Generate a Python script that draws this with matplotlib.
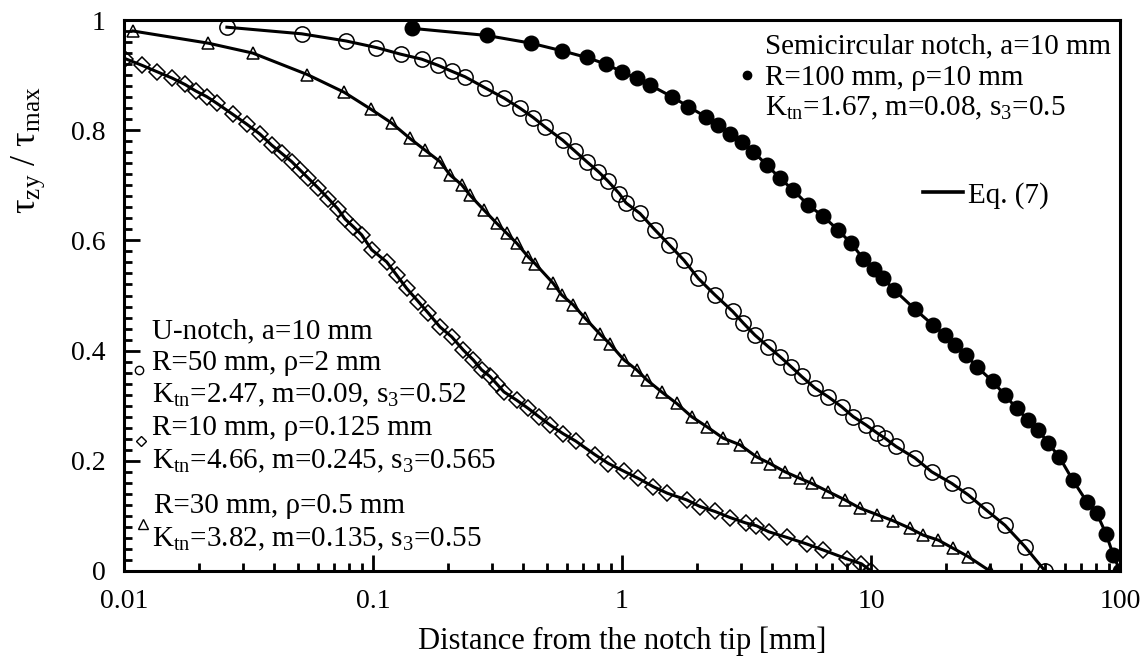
"""Shear stress distribution ahead of U- and semicircular notches."""

import matplotlib.pyplot as plt
from matplotlib.ticker import FixedLocator, FuncFormatter, LogLocator, NullFormatter

plt.rcParams["font.family"] = ["Liberation Serif", "DejaVu Serif"]
plt.rcParams["mathtext.default"] = "regular"

# R=100 mm, rho=10 mm (semicircular notch, filled circles)
x100 = [0.143, 0.286, 0.431, 0.576, 0.722, 0.862, 1.0, 1.146, 1.296, 1.583, 1.846,
        2.175, 2.436, 2.715, 3.025, 3.368, 3.812, 4.311, 4.875, 5.601, 6.416, 7.37,
        8.31, 9.31, 10.28, 11.2, 12.41, 15.02, 17.79, 19.83, 21.75, 24.07, 26.58,
        30.82, 34.53, 38.47, 42.82, 46.97, 51.52, 57.04, 64.6, 73.5, 80.6, 87.8, 94.0, 100]
y100 = [0.985, 0.972, 0.958, 0.944, 0.932, 0.920, 0.906, 0.894, 0.882, 0.861, 0.843,
        0.824, 0.809, 0.794, 0.779, 0.761, 0.737, 0.713, 0.691, 0.664, 0.644, 0.619,
        0.595, 0.567, 0.549, 0.531, 0.510, 0.475, 0.446, 0.428, 0.410, 0.392, 0.371,
        0.344, 0.319, 0.295, 0.274, 0.256, 0.232, 0.207, 0.165, 0.126, 0.105, 0.068, 0.029, 0.0]

# R=50 mm, rho=2 mm (open circles)
x50 = [0.0259, 0.0517, 0.0779, 0.1033, 0.1292, 0.1569, 0.1819, 0.2071, 0.2342, 0.2818,
       0.3368, 0.3895, 0.4403, 0.4907, 0.5778, 0.6475, 0.7216, 0.8031, 0.881, 0.9754,
       1.038, 1.181, 1.357, 1.549, 1.774, 2.025, 2.363, 2.784, 3.07, 3.421, 3.87, 4.311,
       4.771, 5.268, 5.958, 6.738, 7.627, 8.489, 9.548, 10.62, 11.38, 12.6, 15.02, 17.53,
       21.1, 24.59, 28.96, 34.53, 41.55, 50.0]
y50 = [0.987, 0.975, 0.962, 0.950, 0.938, 0.929, 0.918, 0.907, 0.897, 0.877,
       0.858, 0.840, 0.823, 0.806, 0.782, 0.762, 0.743, 0.725, 0.707, 0.685,
       0.668, 0.649, 0.619, 0.592, 0.564, 0.531, 0.501, 0.471, 0.450, 0.428, 0.407, 0.389,
       0.371, 0.353, 0.332, 0.316, 0.298, 0.280, 0.265, 0.250, 0.241, 0.226, 0.205, 0.180,
       0.159, 0.138, 0.111, 0.083, 0.044, 0.0]

# R=30 mm, rho=0.5 mm (triangles)
x30 = [0.0109, 0.0218, 0.0329, 0.0545, 0.0765, 0.0982, 0.1189, 0.1408, 0.1617, 0.1858,
       0.2038, 0.2271, 0.2453, 0.2792, 0.314, 0.3444, 0.3777, 0.4204, 0.4472, 0.5297,
       0.5725, 0.6374, 0.7104, 0.8157, 0.8952, 1.019, 1.146, 1.257, 1.443, 1.659, 1.905,
       2.189, 2.551, 2.978, 3.475, 3.93, 4.515, 5.187, 5.779, 6.738, 7.863, 9.033, 10.62,
       12.29, 14.34, 16.22, 18.64, 21.41, 24.59, 30.0]
y30 = [0.980, 0.958, 0.940, 0.901, 0.869, 0.838, 0.813, 0.785, 0.764, 0.743,
       0.719, 0.701, 0.682, 0.655, 0.631, 0.613, 0.595, 0.570, 0.558, 0.522,
       0.501, 0.483, 0.459, 0.430, 0.412, 0.383, 0.365, 0.347, 0.325, 0.304, 0.280,
       0.262, 0.241, 0.229, 0.207, 0.195, 0.180, 0.168, 0.159, 0.144, 0.129, 0.114, 0.102,
       0.091, 0.0775, 0.065, 0.056, 0.041, 0.026, 0.0]

# R=10 mm, rho=0.125 mm (diamonds)
x10 = [0.0101, 0.01178, 0.0136, 0.01554, 0.01758, 0.01946, 0.02148, 0.02357, 0.02732,
       0.03111, 0.03517, 0.03918, 0.04297, 0.04715, 0.05089, 0.05497, 0.06031, 0.06613,
       0.07234, 0.07719, 0.08334, 0.09008, 0.09881, 0.1135, 0.1245, 0.1365, 0.152, 0.1668,
       0.1858, 0.2071, 0.2305, 0.2528, 0.2732, 0.2951, 0.3148, 0.3358, 0.3777, 0.4204,
       0.4642, 0.514, 0.5811, 0.6507, 0.7791, 0.8826, 1.019, 1.163, 1.336, 1.523, 1.819,
       2.057, 2.363, 2.715, 3.148, 3.469, 3.894, 4.586, 5.519, 6.434, 7.987, 9.159, 10.0]
y10 = [0.930, 0.918, 0.906, 0.895, 0.883, 0.871, 0.861, 0.849, 0.829,
       0.811, 0.793, 0.773, 0.758, 0.743, 0.728, 0.713, 0.695, 0.676,
       0.657, 0.639, 0.625, 0.610, 0.583, 0.561, 0.537, 0.513, 0.489, 0.468,
       0.443, 0.425, 0.401, 0.383, 0.365, 0.353, 0.339, 0.325, 0.310, 0.295,
       0.280, 0.265, 0.249, 0.236, 0.211, 0.195, 0.181, 0.168, 0.153, 0.141, 0.129,
       0.117, 0.108, 0.097, 0.087, 0.082, 0.071, 0.061, 0.049, 0.038, 0.022, 0.013, 0.0]

x_ticks = [0.01, 0.1, 1, 10, 100]
y_ticks = [0, 0.2, 0.4, 0.6, 0.8, 1.0]

fig = plt.figure(figsize=(11.48, 6.61), dpi=100)
ax = fig.add_axes([0.108, 0.1362, 0.8676, 0.8335])

lw = 2.2
# Eq. (7) curves
for xs, ys in [(x100, y100), (x50, y50), (x30, y30), (x10, y10)]:
    ax.plot(xs, ys, "-", color="black", lw=lw, zorder=2)

# FE results
ax.plot(x100, y100, "o", ms=10.5, mfc="black", mec="black", zorder=3)
ax.plot(x50, y50, "o", ms=11, mfc="none", mec="black", mew=1.1, zorder=3)
ax.plot(x30, y30, "^", ms=8, mfc="none", mec="black", mew=1.1, zorder=3)
ax.plot(x10, y10, "D", ms=8, mfc="none", mec="black", mew=1.1, zorder=3)

ax.set_xscale("log")
ax.set_xlim(0.01, 100)
ax.set_ylim(0, 1)
ax.xaxis.set_major_locator(FixedLocator(x_ticks))
ax.xaxis.set_major_formatter(FuncFormatter(lambda v, p: "%g" % v))
ax.xaxis.set_minor_locator(LogLocator(base=10, subs=range(2, 10)))
ax.xaxis.set_minor_formatter(NullFormatter())
ax.yaxis.set_major_locator(FixedLocator(y_ticks))
ax.yaxis.set_major_formatter(FuncFormatter(lambda v, p: "%g" % v))
ax.yaxis.set_minor_locator(FixedLocator([i * 0.02 for i in range(51)]))

ax.tick_params(which="both", direction="in", top=False, right=False, width=2.0,
               labelsize=20, colors="black")
ax.tick_params(which="major", length=11.5)
ax.tick_params(which="minor", length=5.5)
ax.tick_params(axis="x", which="major", pad=13)
ax.tick_params(axis="y", which="major", pad=13)
for s in ax.spines.values():
    s.set_linewidth(2.2)

ax.set_xlabel("Distance from the notch tip [mm]", fontsize=22, labelpad=9)
ax.set_ylabel("τ$_{zy}$ / τ$_{max}$", fontsize=26)
ax.yaxis.set_label_coords(-0.077, 0.764)

fs = 21
# semicircular notch block
ax.text(0.6436, 0.940, "Semicircular notch, a=10 mm", transform=ax.transAxes,
        fontsize=fs, va="baseline")
ax.plot([0.6252], [0.900], "o", ms=6, color="black", transform=ax.transAxes, clip_on=False)
ax.text(0.6436, 0.882, "R=100 mm, ρ=10 mm", transform=ax.transAxes, fontsize=fs, va="baseline")
ax.text(0.6436, 0.8276, "K$_{tn}$=1.67, m=0.08, s$_{3}$=0.5", transform=ax.transAxes,
        fontsize=fs, va="baseline")

# Eq. (7) key
ax.plot([0.802, 0.842], [0.688, 0.688], color="black", lw=2.6, transform=ax.transAxes)
ax.text(0.847, 0.668, "Eq. (7)", transform=ax.transAxes, fontsize=fs, va="baseline")

# U-notch block
ax.text(0.0281, 0.422, "U-notch, a=10 mm", transform=ax.transAxes, fontsize=fs, va="baseline")
ax.plot([0.0155], [0.365], "o", ms=6, mfc="none", mec="black", mew=1.0,
        transform=ax.transAxes)
ax.text(0.0281, 0.365, "R=50 mm, ρ=2 mm", transform=ax.transAxes, fontsize=fs, va="baseline")
ax.text(0.0281, 0.306, "K$_{tn}$=2.47, m=0.09, s$_{3}$=0.52", transform=ax.transAxes,
        fontsize=fs, va="baseline")
ax.plot([0.0168], [0.236], "D", ms=5.5, mfc="none", mec="black", mew=1.0,
        transform=ax.transAxes)
ax.text(0.0281, 0.247, "R=10 mm, ρ=0.125 mm", transform=ax.transAxes, fontsize=fs,
        va="baseline")
ax.text(0.0281, 0.187, "K$_{tn}$=4.66, m=0.245, s$_{3}$=0.565", transform=ax.transAxes,
        fontsize=fs, va="baseline")
ax.plot([0.0188], [0.085], "^", ms=7.5, mfc="none", mec="black", mew=1.0,
        transform=ax.transAxes)
ax.text(0.0301, 0.105, "R=30 mm, ρ=0.5 mm", transform=ax.transAxes, fontsize=fs,
        va="baseline")
ax.text(0.0281, 0.044, "K$_{tn}$=3.82, m=0.135, s$_{3}$=0.55", transform=ax.transAxes,
        fontsize=fs, va="baseline")

fig.savefig("out.png", dpi=100)
